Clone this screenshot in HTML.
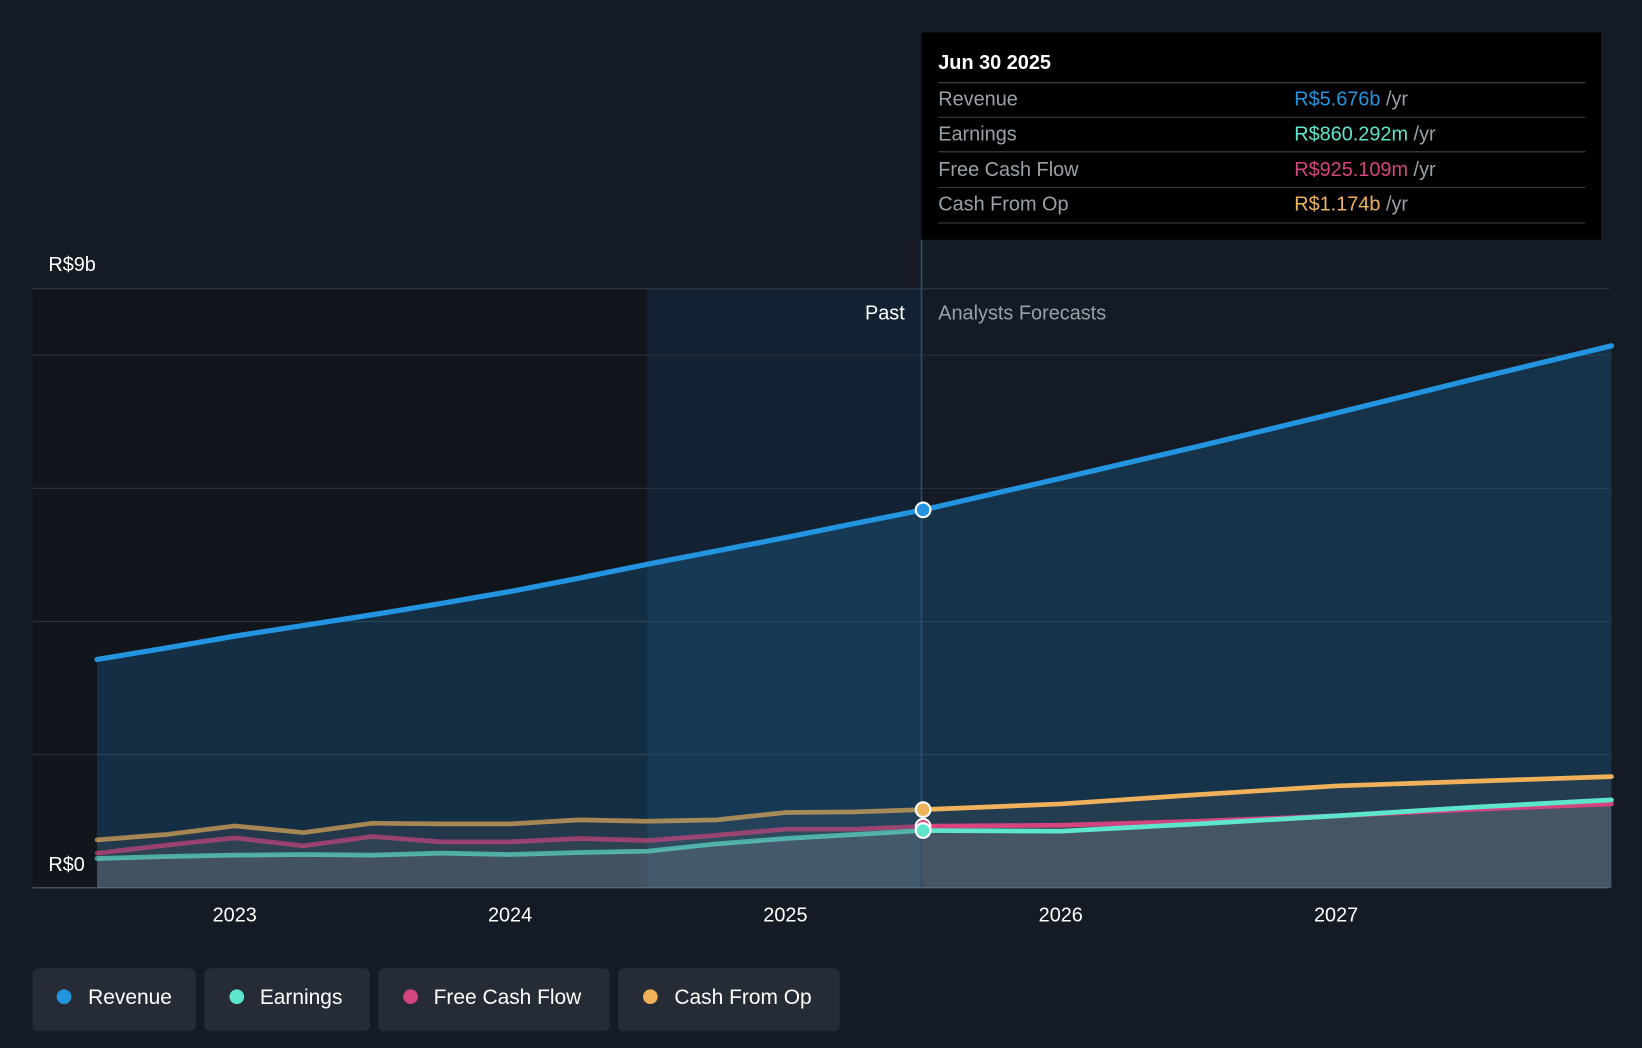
<!DOCTYPE html>
<html><head><meta charset="utf-8"><style>
html,body{margin:0;padding:0;background:#151b24;}
svg{display:block;font-family:"Liberation Sans",sans-serif;}
</style></head><body>
<svg id="chart" width="1642" height="1048" viewBox="0 0 1568 1001" xmlns="http://www.w3.org/2000/svg">
<rect x="0" y="0" width="1568" height="1001" fill="#151b24"/>
<rect x="31" y="276" width="849" height="572" fill="#11151c"/>
<rect x="618" y="276" width="262" height="572" fill="#132232"/>
<g id="grid"></g>
<g id="areas"></g>
<line x1="880" y1="229" x2="880" y2="848" stroke="#2a5070" stroke-width="1.5"/>
<g id="lines"></g>
<g id="xaxis"></g>
<text x="46" y="259" fill="#ffffff" font-size="19">R$9b</text>
<text x="46" y="832" fill="#ffffff" font-size="19">R$0</text>
<text x="864" y="305" fill="#ffffff" font-size="19" text-anchor="end">Past</text>
<text x="896" y="305" fill="#9aa0a8" font-size="19">Analysts Forecasts</text>
<g>
<rect x="880" y="31" width="649" height="198" fill="#000000"/>
<text x="896" y="66" fill="#fff" font-size="19" font-weight="bold">Jun 30 2025</text>
<line x1="896" y1="79" x2="1514" y2="79" stroke="#444"/>
<text x="896" y="101" fill="#9aa0a8" font-size="19">Revenue</text>
<text x="1236" y="101" font-size="19"><tspan fill="#2394e0">R$5.676b</tspan><tspan fill="#9aa0a8"> /yr</tspan></text>
<line x1="896" y1="112" x2="1514" y2="112" stroke="#444"/>
<text x="896" y="134" fill="#9aa0a8" font-size="19">Earnings</text>
<text x="1236" y="134" font-size="19"><tspan fill="#5ee6cc">R$860.292m</tspan><tspan fill="#9aa0a8"> /yr</tspan></text>
<line x1="896" y1="145" x2="1514" y2="145" stroke="#444"/>
<text x="896" y="168" fill="#9aa0a8" font-size="19">Free Cash Flow</text>
<text x="1236" y="168" font-size="19"><tspan fill="#d4457f">R$925.109m</tspan><tspan fill="#9aa0a8"> /yr</tspan></text>
<line x1="896" y1="179" x2="1514" y2="179" stroke="#444"/>
<text x="896" y="201" fill="#9aa0a8" font-size="19">Cash From Op</text>
<text x="1236" y="201" font-size="19"><tspan fill="#efb25a">R$1.174b</tspan><tspan fill="#9aa0a8"> /yr</tspan></text>
<line x1="896" y1="213" x2="1514" y2="213" stroke="#444"/>
</g>
<g>
<g><rect x="31" y="925" width="156" height="60" rx="5" fill="#262c36"/><circle cx="61" cy="952" r="7" fill="#2394e0"/><text x="84" y="959" fill="#fff" font-size="20">Revenue</text></g>
<g><rect x="195" y="925" width="158" height="60" rx="5" fill="#262c36"/><circle cx="226" cy="952" r="7" fill="#5ee6cc"/><text x="248" y="959" fill="#fff" font-size="20">Earnings</text></g>
<g><rect x="361" y="925" width="221" height="60" rx="5" fill="#262c36"/><circle cx="392" cy="952" r="7" fill="#d4457f"/><text x="414" y="959" fill="#fff" font-size="20">Free Cash Flow</text></g>
<g><rect x="590" y="925" width="212" height="60" rx="5" fill="#262c36"/><circle cx="621" cy="952" r="7" fill="#efb25a"/><text x="644" y="959" fill="#fff" font-size="20">Cash From Op</text></g>
</g>
<g id="markers"></g>
</svg>
<script>
const years = [2022.5,2022.75,2023,2023.25,2023.5,2023.75,2024,2024.25,2024.5,2024.75,2025,2025.25,2025.5,2026,2026.5,2027,2027.5,2028];
const revenue = [3.43,3.6,3.78,3.94,4.1,4.27,4.45,4.65,4.86,5.06,5.26,5.47,5.676,6.15,6.63,7.13,7.64,8.14];
const earnings = [0.44,0.47,0.49,0.5,0.49,0.52,0.5,0.53,0.55,0.66,0.74,0.8,0.86,0.85,0.96,1.08,1.21,1.32];
const fcf = [0.52,0.64,0.75,0.63,0.77,0.69,0.69,0.74,0.71,0.79,0.88,0.88,0.925,0.94,1.0,1.08,1.18,1.26];
const cfo = [0.72,0.8,0.93,0.83,0.97,0.96,0.96,1.02,1.0,1.02,1.13,1.14,1.174,1.26,1.4,1.53,1.6,1.67];
const gridValues = [0,2,4,6,8,9];
const tickYears = [2023,2024,2025,2026,2027];
const currentYear = 2025.5;
const NS="http://www.w3.org/2000/svg";
const xs = y => 224 + (y-2023)*263;
const ys = v => 848 - v*63.6;
function mk(tag, attrs, parent){const e=document.createElementNS(NS,tag);for(const k in attrs)e.setAttribute(k,attrs[k]);parent.appendChild(e);return e;}
const grid=document.getElementById('grid');
gridValues.forEach(v=>{const l=mk('line',{x1:31,x2:1537,y1:ys(v),y2:ys(v),stroke:v===0?'#59606a':'#2c333d','stroke-width':v===9?1.5:1},grid);

});
const xa=document.getElementById('xaxis');
tickYears.forEach(y=>{
const t=mk('text',{x:xs(y),y:880,fill:'#fff','font-size':19,'text-anchor':'middle'},xa);t.textContent=y;

});
const series=[['revenue',revenue,'#2394e0','rgba(35,148,224,0.2)'],['cash-from-op',cfo,'#efb25a','rgba(120,120,120,0.15)'],['free-cash-flow',fcf,'#d4457f','rgba(120,120,120,0.15)'],['earnings',earnings,'#5ee6cc','rgba(150,150,160,0.2)']];
const areas=document.getElementById('areas'),lines=document.getElementById('lines'),markers=document.getElementById('markers');
const ci=years.indexOf(currentYear);
series.forEach(([name,data,col,fill])=>{
  const pts=years.map((y,i)=>xs(y).toFixed(1)+','+ys(data[i]).toFixed(1));
  const a=mk('path',{d:'M'+xs(years[0])+','+ys(0)+' L'+pts.join(' L')+' L'+xs(years[years.length-1])+','+ys(0)+'Z',fill:fill},areas);
  
  
  const w=name==='revenue'?5:4.5;
  const op=name==='revenue'?1:0.65;
  const lp=mk('polyline',{points:pts.slice(0,ci+1).join(' '),fill:'none',stroke:col,'stroke-opacity':op,'stroke-width':w,'stroke-linejoin':'round','stroke-linecap':'round'},lines);
  
  
  const l=mk('polyline',{points:pts.slice(ci).join(' '),fill:'none',stroke:col,'stroke-width':w,'stroke-linejoin':'round','stroke-linecap':'round'},lines);
  
  
  const c=mk('circle',{cx:xs(currentYear),cy:ys(data[ci]),r:7,fill:col,stroke:'#fff','stroke-width':2},markers);
  
  
});
</script>
</body></html>
